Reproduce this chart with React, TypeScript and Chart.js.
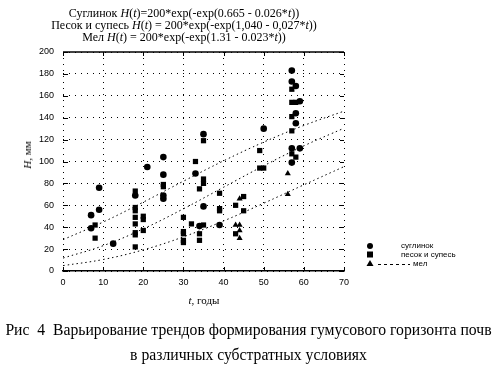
import React, { useEffect, useRef } from "react";
import { Chart, registerables } from "chart.js";

Chart.register(...registerables);

// Trend curve values read at t = 0, 10, ..., 70
const trendT = [0, 10, 20, 30, 40, 50, 60, 70];
const trendSuglinok = [28.6, 44.7, 62.9, 82.0, 100.6, 117.7, 132.9, 146.0];
const trendPesok = [11.8, 23.1, 38.5, 56.8, 76.5, 96.1, 114.3, 130.4];
const trendMel = [4.9, 10.5, 19.3, 31.2, 45.7, 61.9, 78.7, 95.3];

// Observations: суглинок
const sugT = [7, 7, 9, 9, 12.5, 18, 21, 25, 25, 25, 25, 33, 34, 35, 35, 39, 50, 57, 57, 58, 58, 58, 57, 59, 59, 57];
const sugH = [51, 39, 76, 56, 25, 69, 95, 104, 88, 69, 66, 89, 41, 125, 59, 42, 130, 183, 173, 169, 144, 135, 112, 155, 112, 99];

// Observations: песок и супесь
const pesT = [8, 8, 18, 18, 18, 18, 18, 18, 18, 18, 20, 20, 20, 25, 25, 30, 30, 30, 30, 30, 32, 33, 34, 34, 34, 35, 35, 35, 35, 39, 39, 39, 43, 43, 45, 45, 49, 49, 50, 57, 57, 58, 57, 57, 57, 58];
const pesH = [42, 30, 73, 58, 55, 49, 43, 35, 33, 22, 50, 47, 37, 79, 77, 49, 36, 34, 28, 26, 43, 100, 75, 34, 28, 119, 84, 80, 42, 71, 57, 55, 60, 34, 68, 55, 110, 94, 94, 166, 154, 154, 141, 128, 107, 104];

// Observations: мел
const melT = [43, 44, 44, 44, 44, 56, 56];
const melH = [42, 42, 37, 30, 66, 89, 70];

const xTicks = [0, 10, 20, 30, 40, 50, 60, 70];
const yTicks = [0, 20, 40, 60, 80, 100, 120, 140, 160, 180, 200];

const toPts = (xs: number[], ys: number[]) => xs.map((x, i) => ({ x, y: ys[i] }));

const framePlugin = {
  id: "frame",
  afterDraw(chart: any) {
    const { ctx, chartArea } = chart;
    const { left, right, top, bottom } = chartArea;
    const xs = chart.scales.x;
    const ys = chart.scales.y;
    ctx.save();
    ctx.strokeStyle = "#000";
    ctx.lineWidth = 1.5;
    ctx.beginPath();
    ctx.moveTo(left, top);
    ctx.lineTo(right, top);
    ctx.stroke();
    ctx.lineWidth = 1;
    ctx.beginPath();
    xTicks.forEach((t) => {
      const px = Math.round(xs.getPixelForValue(t)) + 0.5;
      ctx.moveTo(px, top);
      ctx.lineTo(px, top + 4);
      ctx.moveTo(px, bottom);
      ctx.lineTo(px, bottom - 4);
    });
    yTicks.forEach((v) => {
      const py = Math.round(ys.getPixelForValue(v)) + 0.5;
      ctx.moveTo(left, py);
      ctx.lineTo(left + 5, py);
      ctx.moveTo(right, py);
      ctx.lineTo(right - 4, py);
    });
    ctx.stroke();

    // legend markers
    const lx = 370;
    ctx.fillStyle = "#000";
    ctx.beginPath();
    ctx.arc(lx, 246, 3, 0, Math.PI * 2);
    ctx.fill();
    ctx.fillRect(lx - 3, 251.5, 6, 6);
    ctx.beginPath();
    ctx.moveTo(lx, 260);
    ctx.lineTo(lx + 3.5, 266);
    ctx.lineTo(lx - 3.5, 266);
    ctx.closePath();
    ctx.fill();
    ctx.setLineDash([3, 3]);
    ctx.beginPath();
    ctx.moveTo(378, 264.5);
    ctx.lineTo(410, 264.5);
    ctx.stroke();
    ctx.restore();
  },
};

export default function App() {
  const ref = useRef<HTMLCanvasElement | null>(null);

  useEffect(() => {
    if (!ref.current) return;
    const trendStyle = {
      showLine: true,
      pointRadius: 0,
      borderColor: "#000",
      borderWidth: 1,
      borderDash: [1.5, 3],
      fill: false,
      tension: 0.4,
    };
    const chart = new Chart(ref.current, {
      type: "scatter",
      data: {
        datasets: [
          { label: "суглинок-тренд", data: toPts(trendT, trendSuglinok), ...trendStyle },
          { label: "песок-тренд", data: toPts(trendT, trendPesok), ...trendStyle },
          { label: "мел-тренд", data: toPts(trendT, trendMel), ...trendStyle },
          {
            label: "суглинок",
            data: toPts(sugT, sugH),
            pointStyle: "circle",
            pointRadius: 3.3,
            backgroundColor: "#000",
            borderColor: "#000",
            borderWidth: 0,
          },
          {
            label: "песок и супесь",
            data: toPts(pesT, pesH),
            pointStyle: "rect",
            pointRadius: 3.7,
            backgroundColor: "#000",
            borderColor: "#000",
            borderWidth: 0,
          },
          {
            label: "мел",
            data: toPts(melT, melH),
            pointStyle: "triangle",
            pointRadius: 3.5,
            backgroundColor: "#000",
            borderColor: "#000",
            borderWidth: 0,
          },
        ],
      },
      options: {
        responsive: false,
        animation: false,
        events: [],
        layout: { padding: { left: 0, top: 52, right: 153, bottom: 0 } },
        plugins: { legend: { display: false }, tooltip: { enabled: false }, title: { display: false } },
        scales: {
          x: {
            type: "linear",
            min: 0,
            max: 70,
            afterFit: (s: any) => {
              s.height = 95;
            },
            afterBuildTicks: (s: any) => {
              s.ticks = xTicks.map((v) => ({ value: v }));
            },
            ticks: {
              color: "#000",
              font: { family: "'Liberation Sans', Arial, sans-serif", size: 9 },
              padding: 6,
              maxRotation: 0,
            },
            grid: { color: "#000", lineWidth: 1, drawTicks: false },
            border: { display: true, color: "#000", width: 1.5, dash: [1, 5] },
          },
          y: {
            type: "linear",
            min: 0,
            max: 200,
            afterFit: (s: any) => {
              s.width = 63;
            },
            afterBuildTicks: (s: any) => {
              s.ticks = yTicks.map((v) => ({ value: v }));
            },
            ticks: {
              color: "#000",
              font: { family: "'Liberation Sans', Arial, sans-serif", size: 9 },
              padding: 9,
            },
            grid: { color: "#000", lineWidth: 1, drawTicks: false },
            border: { display: false, dash: [1, 5] },
          },
        },
      },
      plugins: [framePlugin],
    });
    return () => chart.destroy();
  }, []);

  const serif = "'Liberation Serif', 'Times New Roman', serif";
  const sans = "'Liberation Sans', Arial, sans-serif";
  const abs = (s: React.CSSProperties): React.CSSProperties => ({ position: "absolute", whiteSpace: "nowrap", color: "#000", ...s });

  return (
    <div style={{ position: "absolute", left: 0, top: 0, width: 497, height: 366, background: "#fff", overflow: "hidden" }}>
      <canvas ref={ref} width={497} height={366} style={{ position: "absolute", left: 0, top: 0, width: 497, height: 366 }} />
      <div style={abs({ left: 0, width: 368, top: 7, textAlign: "center", fontFamily: serif, fontSize: 12, lineHeight: "12px" })}>
        <div>Суглинок <i>H</i>(<i>t</i>)=200*exp(-exp(0.665 - 0.026*<i>t</i>))</div>
        <div>Песок и супесь <i>H</i>(<i>t</i>) = 200*exp(-exp(1,040 - 0,027*<i>t</i>))</div>
        <div>Мел <i>H</i>(<i>t</i>) = 200*exp(-exp(1.31 - 0.023*<i>t</i>))</div>
      </div>
      <div style={abs({ left: 27, top: 155, fontFamily: serif, fontSize: 11, transform: "translate(-50%, -50%) rotate(-90deg)" })}>
        <i>H</i>, мм
      </div>
      <div style={abs({ left: 204, top: 300, fontFamily: serif, fontSize: 11, transform: "translate(-50%, -50%)" })}>
        <i>t</i>, годы
      </div>
      <div style={abs({ left: 401, top: 241, fontFamily: sans, fontSize: 8, lineHeight: "9px" })}>суглинок</div>
      <div style={abs({ left: 401, top: 250, fontFamily: sans, fontSize: 8, lineHeight: "9px" })}>песок и супесь</div>
      <div style={abs({ left: 413, top: 259, fontFamily: sans, fontSize: 8, lineHeight: "9px" })}>мел</div>
      <div style={abs({ left: 0, width: 497, top: 321, textAlign: "center", fontFamily: serif, fontSize: 15.7, lineHeight: "18px" })}>
        Рис&nbsp;&nbsp;4&nbsp;&nbsp;Варьирование трендов формирования гумусового горизонта почв
      </div>
      <div style={abs({ left: 0, width: 497, top: 346, textAlign: "center", fontFamily: serif, fontSize: 15.7, lineHeight: "18px" })}>
        в различных субстратных условиях
      </div>
    </div>
  );
}
